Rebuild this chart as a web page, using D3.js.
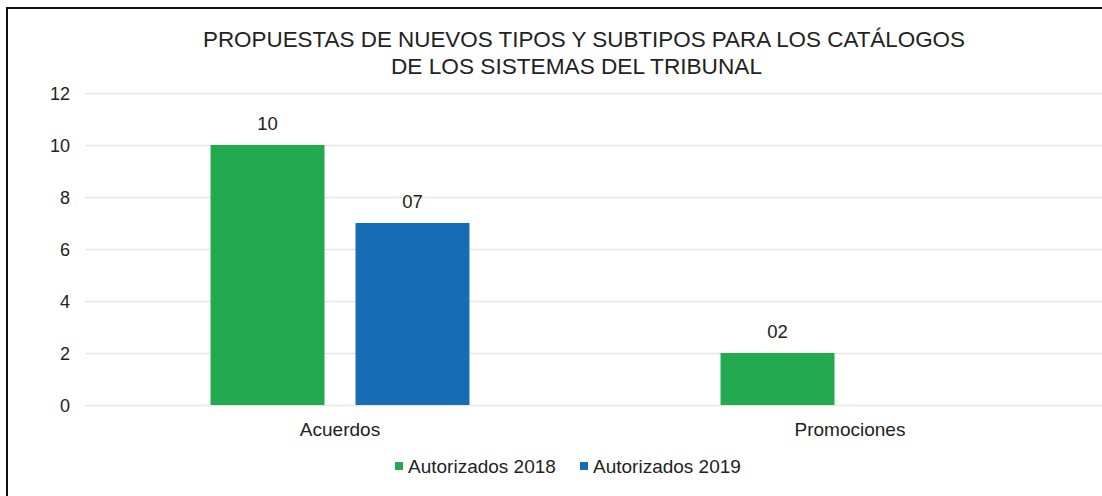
<!DOCTYPE html>
<html>
<head>
<meta charset="utf-8">
<script src="https://cdn.jsdelivr.net/npm/d3@7"></script>
<style>
  body { margin: 0; background: #fff; }
  svg text { font-family: "Liberation Sans", Arial, sans-serif; fill: #222; }
</style>
</head>
<body>
<svg id="chart" width="1102" height="496"></svg>
<script>
// Chart data:
var categories = ["Acuerdos", "Promociones"];
var seriesNames = ["Autorizados 2018", "Autorizados 2019"];
var seriesColors = ["#23a94f", "#166db6"];
var values2018 = [10, 2];
var values2019 = [7, null];
var yTicks = [0, 2, 4, 6, 8, 10, 12];
var titleLines = ["PROPUESTAS DE NUEVOS TIPOS Y SUBTIPOS PARA LOS CATÁLOGOS",
                  "DE LOS SISTEMAS DEL TRIBUNAL"];

var svg = d3.select("#chart");

// The frame around the picture (only top and left edges are visible):
svg.append("line").attr("x1", 6).attr("x2", 1102).attr("y1", 8).attr("y2", 8)
  .attr("stroke", "#111").attr("stroke-width", 2);
svg.append("line").attr("x1", 7).attr("x2", 7).attr("y1", 7).attr("y2", 496)
  .attr("stroke", "#111").attr("stroke-width", 2);

var plot = { left: 85, right: 1105, top: 93, bottom: 405 };

var y = d3.scaleLinear().domain([0, 12]).range([plot.bottom, plot.top]);
var x0 = d3.scaleBand().domain(categories).range([plot.left, plot.right]).padding(0);
var x1 = d3.scaleBand().domain(seriesNames).range([0, x0.bandwidth()])
  .paddingInner(0.214).paddingOuter(0.866);

// Gridlines and tick labels:
var yAxis = d3.axisLeft(y).tickValues(yTicks).tickSize(-(plot.right - plot.left)).tickPadding(15);
var gy = svg.append("g").attr("transform", "translate(" + plot.left + ",0)").call(yAxis);
gy.select(".domain").remove();
gy.selectAll(".tick line").attr("stroke", "#e6e6e6").attr("stroke-width", 1.5);
gy.selectAll(".tick text").attr("font-size", 18).attr("dy", "0.36em").style("fill", "#222");

// Rows of the table: one entry by category and series
var rows = [];
categories.forEach(function(c, i) {
  [values2018, values2019].forEach(function(vals, j) {
    if (vals[i] != null) rows.push({ cat: c, series: seriesNames[j], value: vals[i], color: seriesColors[j] });
  });
});

var bars = svg.append("g");
bars.selectAll("rect").data(rows).enter().append("rect")
  .attr("x", function(d) { return x0(d.cat) + x1(d.series); })
  .attr("y", function(d) { return y(d.value); })
  .attr("width", x1.bandwidth())
  .attr("height", function(d) { return y(0) - y(d.value); })
  .attr("fill", function(d) { return d.color; });

// Value labels, two digits:
bars.selectAll("text").data(rows).enter().append("text")
  .attr("x", function(d) { return x0(d.cat) + x1(d.series) + x1.bandwidth() / 2; })
  .attr("y", function(d) { return y(d.value) - 15; })
  .attr("text-anchor", "middle")
  .attr("font-size", 18.5)
  .text(function(d) { return d3.format("02d")(d.value); });

// Category labels:
svg.append("g").selectAll("text").data(categories).enter().append("text")
  .attr("x", function(d) { return x0(d) + x0.bandwidth() / 2; })
  .attr("y", 436)
  .attr("text-anchor", "middle")
  .attr("font-size", 19)
  .text(function(d) { return d; });

// Title (the original lines are slightly condensed):
var titleX = [203, 391], titleY = [47, 74], titleW = [762, 371];
svg.append("g").selectAll("text").data(titleLines).enter().append("text")
  .attr("x", function(d, i) { return titleX[i]; })
  .attr("y", function(d, i) { return titleY[i]; })
  .attr("font-size", 22)
  .attr("textLength", function(d, i) { return titleW[i]; })
  .attr("lengthAdjust", "spacingAndGlyphs")
  .text(function(d) { return d; });

// Legend:
var legendX = [395, 580];
var legend = svg.append("g").selectAll("g").data(seriesNames).enter().append("g")
  .attr("transform", function(d, i) { return "translate(" + legendX[i] + ",466)"; });
legend.append("rect").attr("x", 0).attr("y", -4).attr("width", 8).attr("height", 8)
  .attr("fill", function(d, i) { return seriesColors[i]; });
legend.append("text").attr("x", 13).attr("y", 7).attr("font-size", 19)
  .text(function(d) { return d; });
</script>
</body>
</html>
